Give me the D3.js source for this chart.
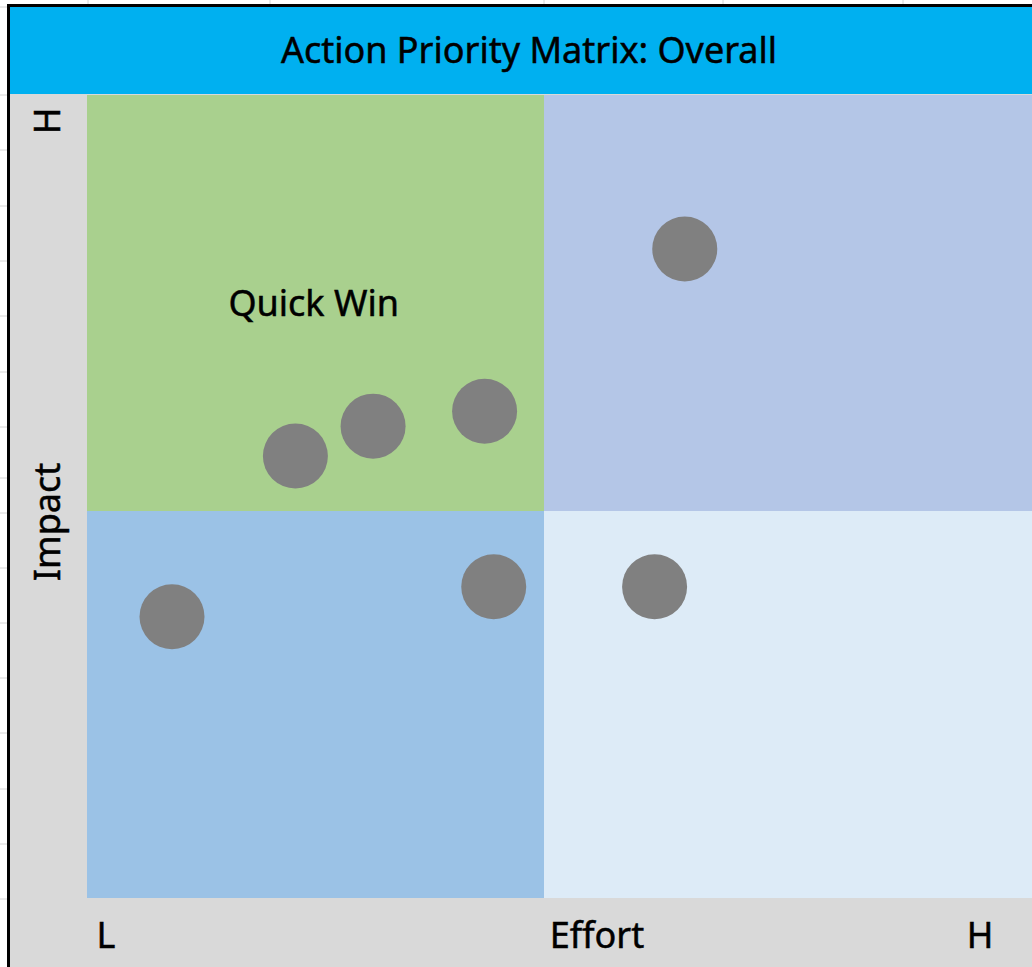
<!DOCTYPE html>
<html>
<head>
<meta charset="utf-8">
<script src="https://cdn.jsdelivr.net/npm/d3@7"></script>
<style>
  body { margin: 0; background: #fff; }
  svg text { font-family: "Noto Sans", "Open Sans", sans-serif; fill: #000; stroke: #000; stroke-width: 0.5px; }
</style>
</head>
<body>
<div id="chart"></div>
<script>
// Chart data
const chartTitle = "Action Priority Matrix: Overall";
const effort = [6.54, 4.35, 3.13, 2.28, 0.93, 4.45, 6.21];
const impact = [8.15, 6.20, 6.02, 5.66, 3.73, 4.09, 4.09];
const xTickLabels = ["L", "Effort", "H"];
const yTickLabels = ["H", "Impact"];
const quadrantLabels = ["Quick Win"];
// spreadsheet gridlines peeking out behind the chart
const sheetCols = [88, 270, 544, 723, 903];
const sheetRows = [7, 95, 150, 206, 261, 316, 372, 427, 478, 513, 568, 623, 678, 733, 789, 844, 899];

const w = 1032, h = 967;
const fontSize = '36px';

function drawMatrix(selector) {

	const svg = d3.select(selector)
		.append('svg')
		.attr('width', w)
		.attr('height', h);

	// faint sheet ticks
	svg.selectAll('.col')
		.data(sheetCols)
		.enter()
		.append('line')
		.attr('x1', d => d).attr('x2', d => d)
		.attr('y1', 0).attr('y2', 5)
		.attr('stroke', '#d4d4d4');

	svg.selectAll('.row')
		.data(sheetRows)
		.enter()
		.append('line')
		.attr('x1', 0).attr('x2', 7)
		.attr('y1', d => d).attr('y2', d => d)
		.attr('stroke', '#d4d4d4');

	// chart area (gray)
	svg.append('rect')
		.attr('x', 9).attr('y', 6)
		.attr('width', w - 9).attr('height', h - 6)
		.attr('fill', '#d9d9d9');

	// scales
	const xScale = d3.scaleLinear().domain([0, 10]).range([87, 1001]);
	const yScale = d3.scaleLinear().domain([0, 10]).range([927, 95]);
	const plotBottom = 898, plotRight = w;

	const mx = xScale(5), my = yScale(5);
	const quads = [
		{x0: xScale(0), x1: mx, y0: yScale(10), y1: my, fill: '#a9d08e'},
		{x0: mx, x1: plotRight, y0: yScale(10), y1: my, fill: '#b4c6e7'},
		{x0: xScale(0), x1: mx, y0: my, y1: plotBottom, fill: '#9bc2e6'},
		{x0: mx, x1: plotRight, y0: my, y1: plotBottom, fill: '#ddebf7'}
	];

	svg.selectAll('.quad')
		.data(quads)
		.enter()
		.append('rect')
		.attr('x', d => d.x0)
		.attr('y', d => d.y0)
		.attr('width', d => d.x1 - d.x0)
		.attr('height', d => d.y1 - d.y0)
		.attr('fill', d => d.fill);

	// quadrant label
	svg.append('text')
		.attr('x', xScale(2.48))
		.attr('y', yScale(7.51))
		.attr('text-anchor', 'middle')
		.attr('dominant-baseline', 'central')
		.style('font-size', fontSize)
		.text(quadrantLabels[0]);

	// points
	const points = effort.map((e, i) => ({x: e, y: impact[i]}));
	svg.selectAll('circle')
		.data(points)
		.enter()
		.append('circle')
		.attr('cx', d => xScale(d.x))
		.attr('cy', d => yScale(d.y))
		.attr('r', 32.5)
		.attr('fill', '#808080');

	// title bar
	svg.append('rect')
		.attr('x', 9).attr('y', 6)
		.attr('width', w - 9).attr('height', 88)
		.attr('fill', '#00b0f0');

	svg.append('text')
		.attr('x', 529)
		.attr('y', 49)
		.attr('text-anchor', 'middle')
		.attr('dominant-baseline', 'central')
		.style('font-size', fontSize)
		.text(chartTitle);

	// axis labels
	const xLab = [
		{t: xTickLabels[0], x: 106},
		{t: xTickLabels[1], x: 597},
		{t: xTickLabels[2], x: 980}
	];
	svg.selectAll('.xlab')
		.data(xLab)
		.enter()
		.append('text')
		.attr('x', d => d.x)
		.attr('y', 934)
		.attr('text-anchor', 'middle')
		.attr('dominant-baseline', 'central')
		.style('font-size', fontSize)
		.text(d => d.t);

	const yLab = [
		{t: yTickLabels[0], y: 121},
		{t: yTickLabels[1], y: 522}
	];
	svg.selectAll('.ylab')
		.data(yLab)
		.enter()
		.append('text')
		.attr('transform', d => `translate(46, ${d.y}) rotate(-90)`)
		.attr('text-anchor', 'middle')
		.attr('dominant-baseline', 'central')
		.style('font-size', fontSize)
		.text(d => d.t);

	// black frame on the left and top
	svg.append('path')
		.attr('d', `M8.5,${h} V5.5 H${w}`)
		.attr('fill', 'none')
		.attr('stroke', '#000')
		.attr('stroke-width', 3);
}

drawMatrix('#chart');
</script>
</body>
</html>
